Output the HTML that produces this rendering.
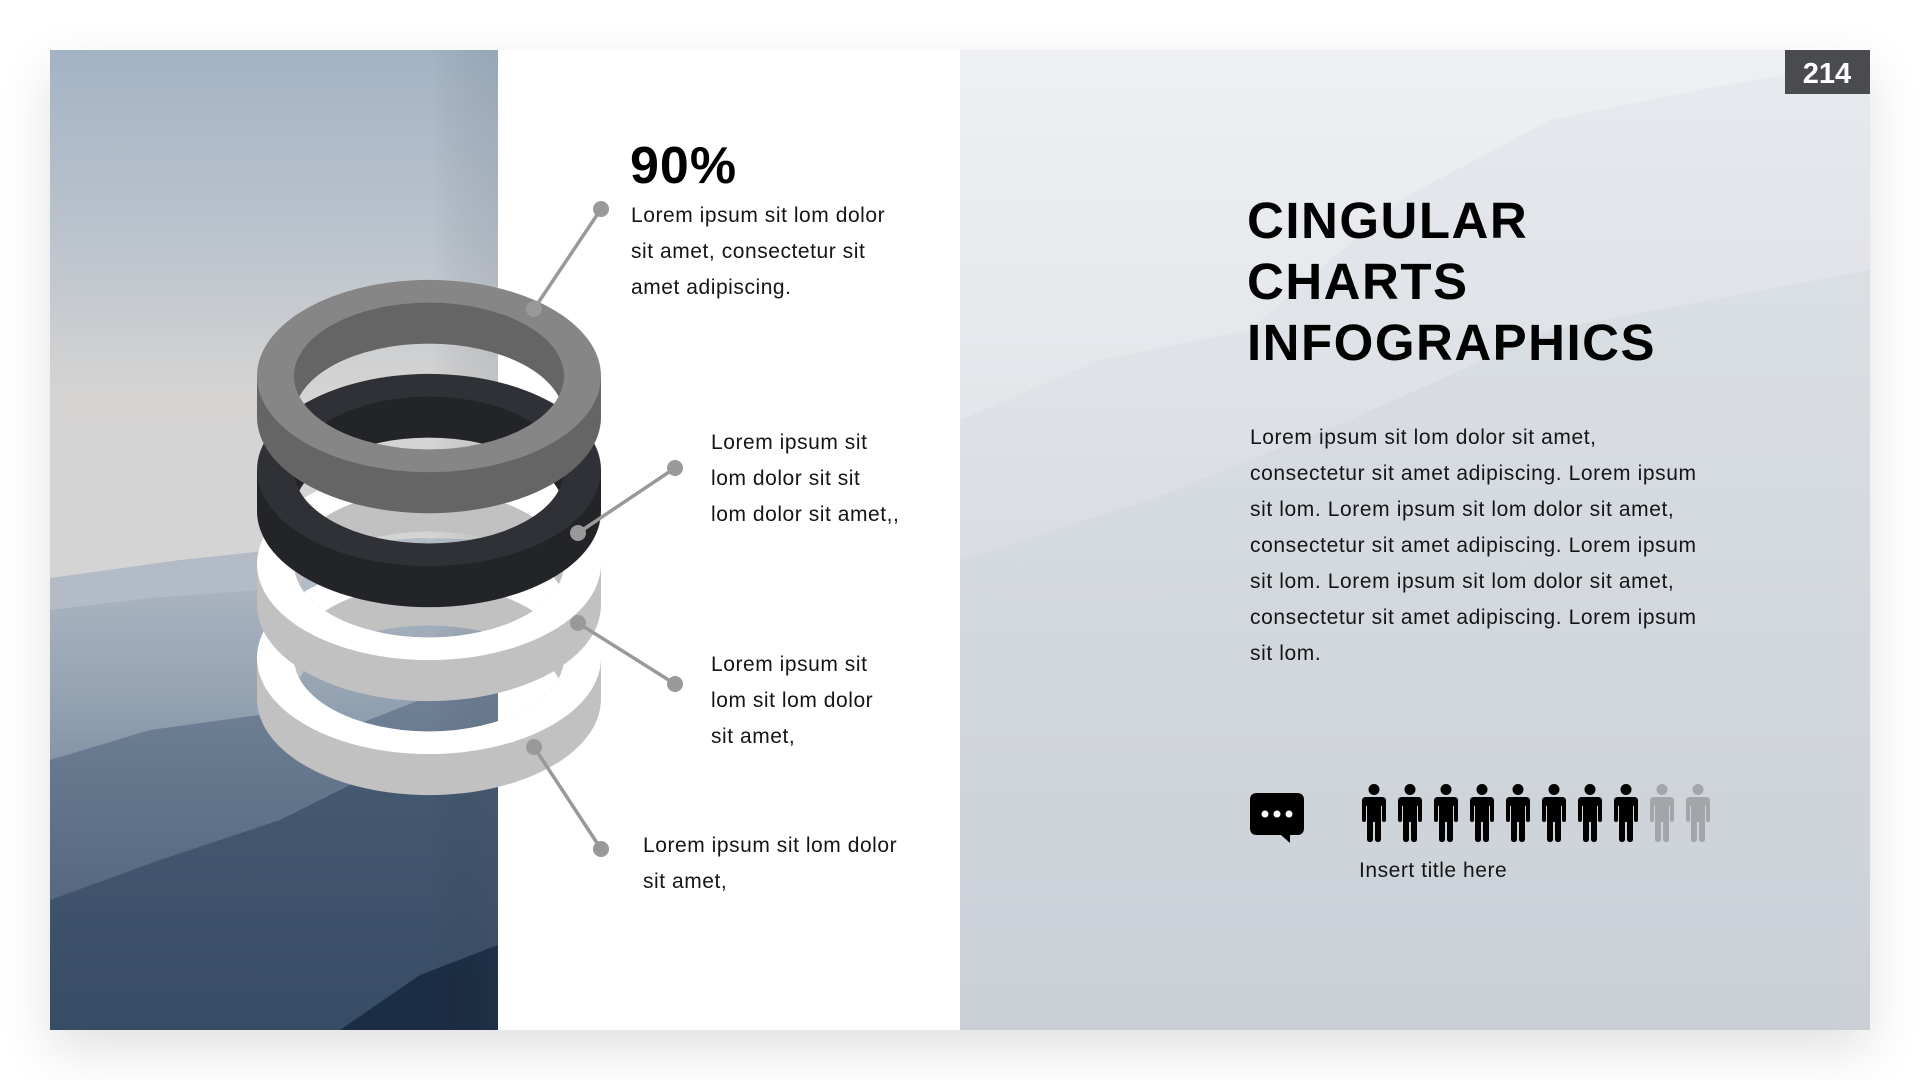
<!DOCTYPE html>
<html><head><meta charset="utf-8"><style>
*{margin:0;padding:0;box-sizing:border-box}
body{width:1920px;height:1080px;background:#fff;position:relative;overflow:hidden;font-family:"Liberation Sans",sans-serif;color:#111}
.card{position:absolute;left:50px;top:50px;width:1820px;height:980px;box-shadow:0 20px 50px rgba(0,0,0,0.12)}
.t{position:absolute;font-size:21px;line-height:36px;color:#151515;white-space:nowrap;letter-spacing:0.55px}
</style></head><body>
<div class="card"></div>
<svg style="position:absolute;left:0;top:0" width="1920" height="1080" viewBox="0 0 1920 1080">
<defs>
<linearGradient id="sky" x1="0" y1="0" x2="0" y2="1">
<stop offset="0" stop-color="#a3b3c4"/><stop offset="0.2" stop-color="#bcc4cd"/><stop offset="0.35" stop-color="#d5d4d3"/><stop offset="0.55" stop-color="#d4d4d5"/><stop offset="1" stop-color="#c0c6ce"/>
</linearGradient>
<linearGradient id="mtn" x1="0" y1="0" x2="0" y2="1">
<stop offset="0" stop-color="#aab4c0"/><stop offset="0.3" stop-color="#8a9aab"/><stop offset="0.7" stop-color="#56687f"/><stop offset="1" stop-color="#2a3f58"/>
</linearGradient>
<linearGradient id="rp" x1="0" y1="0" x2="0" y2="1">
<stop offset="0" stop-color="#eef0f3"/><stop offset="1" stop-color="#d0d4da"/>
</linearGradient>
<linearGradient id="edge" x1="0" y1="0" x2="1" y2="0">
<stop offset="0.85" stop-color="#000" stop-opacity="0"/><stop offset="1" stop-color="#405060" stop-opacity="0.12"/>
</linearGradient>
</defs>
<rect x="50" y="50" width="448" height="980" fill="url(#sky)"/>
<path d="M50 578 L180 560 L320 545 L420 538 L498 540 L498 1030 L50 1030Z" fill="#b3bcc6"/>
<path d="M50 610 L150 598 L260 590 L360 596 L498 580 L498 1030 L50 1030Z" fill="url(#mtn)" opacity="0.85"/>
<path d="M50 760 L150 730 L260 715 L330 735 L420 700 L498 690 L498 1030 L50 1030Z" fill="#4a5e77" opacity="0.5"/>
<path d="M50 900 L160 860 L280 820 L400 760 L498 735 L498 1030 L50 1030Z" fill="#2f445e" opacity="0.6"/>
<path d="M340 1030 L420 975 L498 945 L498 1030Z" fill="#14263c" opacity="0.8"/>
<rect x="50" y="50" width="448" height="980" fill="url(#edge)"/>
<rect x="498" y="50" width="462" height="980" fill="#fff"/>
<rect x="960" y="50" width="910" height="980" fill="url(#rp)"/>
<path d="M960 420 L1100 360 L1250 330 L1400 200 L1550 120 L1700 90 L1870 60 L1870 1030 L960 1030Z" fill="#c8ced6" opacity="0.18"/>
<path d="M960 560 L1150 500 L1350 420 L1550 330 L1870 270 L1870 1030 L960 1030Z" fill="#b8c0ca" opacity="0.15"/>
<rect x="1785" y="50" width="85" height="44" fill="#4a4b4e"/>
<text x="1827" y="83" text-anchor="middle" font-family="Liberation Sans" font-weight="bold" font-size="29" fill="#fff">214</text>

<g transform="translate(0,281) scale(1,1.08) translate(0,-281)">
<defs>
<clipPath id="c4"><ellipse cx="429" cy="630" rx="135" ry="68"/></clipPath>
<clipPath id="c3"><ellipse cx="429" cy="543" rx="135" ry="68"/></clipPath>
<clipPath id="c2"><ellipse cx="429" cy="456" rx="135" ry="68"/></clipPath>
<clipPath id="c1"><ellipse cx="429" cy="369" rx="135" ry="68"/></clipPath>
<mask id="m4" maskUnits="userSpaceOnUse" x="0" y="0" width="1920" height="1200"><rect width="1920" height="1200" fill="#fff"/><ellipse cx="429" cy="668" rx="135" ry="68" fill="#000" clip-path="url(#c4)"/></mask>
<mask id="m3" maskUnits="userSpaceOnUse" x="0" y="0" width="1920" height="1200"><rect width="1920" height="1200" fill="#fff"/><ellipse cx="429" cy="581" rx="135" ry="68" fill="#000" clip-path="url(#c3)"/></mask>
<mask id="m2" maskUnits="userSpaceOnUse" x="0" y="0" width="1920" height="1200"><rect width="1920" height="1200" fill="#fff"/><ellipse cx="429" cy="494" rx="135" ry="68" fill="#000" clip-path="url(#c2)"/></mask>
<mask id="m1" maskUnits="userSpaceOnUse" x="0" y="0" width="1920" height="1200"><rect width="1920" height="1200" fill="#fff"/><ellipse cx="429" cy="407" rx="135" ry="68" fill="#000" clip-path="url(#c1)"/></mask>
</defs>
<g mask="url(#m4)">
<ellipse cx="429" cy="668" rx="172" ry="89" fill="#c1c1c1"/><rect x="257" y="630" width="344" height="38" fill="#c1c1c1"/>
<ellipse cx="429" cy="630" rx="172" ry="89" fill="#fff"/><ellipse cx="429" cy="630" rx="135" ry="68" fill="#c1c1c1"/>
</g>
<g mask="url(#m3)">
<ellipse cx="429" cy="581" rx="172" ry="89" fill="#c1c1c1"/><rect x="257" y="543" width="344" height="38" fill="#c1c1c1"/>
<ellipse cx="429" cy="543" rx="172" ry="89" fill="#fff"/><ellipse cx="429" cy="543" rx="135" ry="68" fill="#c1c1c1"/>
</g>
<g mask="url(#m2)">
<ellipse cx="429" cy="494" rx="172" ry="89" fill="#232428"/><rect x="257" y="456" width="344" height="38" fill="#232428"/>
<ellipse cx="429" cy="456" rx="172" ry="89" fill="#2f3136"/><ellipse cx="429" cy="456" rx="135" ry="68" fill="#232428"/>
</g>
<g mask="url(#m1)">
<ellipse cx="429" cy="407" rx="172" ry="89" fill="#656565"/><rect x="257" y="369" width="344" height="38" fill="#656565"/>
<ellipse cx="429" cy="369" rx="172" ry="89" fill="#868686"/><ellipse cx="429" cy="369" rx="135" ry="68" fill="#656565"/>
</g>
</g>
<g stroke="#999" stroke-width="3.5" fill="#999">
<line x1="534" y1="309" x2="601" y2="209"/><circle cx="534" cy="309" r="8" stroke="none"/><circle cx="601" cy="209" r="8" stroke="none"/>
<line x1="578" y1="533" x2="675" y2="468"/><circle cx="578" cy="533" r="8" stroke="none"/><circle cx="675" cy="468" r="8" stroke="none"/>
<line x1="578" y1="623" x2="675" y2="684"/><circle cx="578" cy="623" r="8" stroke="none"/><circle cx="675" cy="684" r="8" stroke="none"/>
<line x1="534" y1="747" x2="601" y2="849"/><circle cx="534" cy="747" r="8" stroke="none"/><circle cx="601" cy="849" r="8" stroke="none"/>
</g>
<path d="M1257 793 H1297 Q1304 793 1304 800 V828 Q1304 835 1297 835 H1290 L1290 843 L1281 835 H1257 Q1250 835 1250 828 V800 Q1250 793 1257 793Z" fill="#000"/>
<circle cx="1265" cy="814" r="3.5" fill="#fff"/><circle cx="1277" cy="814" r="3.5" fill="#fff"/><circle cx="1289" cy="814" r="3.5" fill="#fff"/>
<defs><g id="p">
<circle cx="12" cy="5.5" r="5.5"/>
<path d="M4 13 H20 Q24 13 24 17 V36 Q24 38 22 38 Q20 38 20 36 V22 H19 V55 Q19 58 16 58 Q13 58 13 55 V38 H11 V55 Q11 58 8 58 Q5 58 5 55 V22 H4 V36 Q4 38 2 38 Q0 38 0 36 V17 Q0 13 4 13Z"/>
</g></defs>
<g fill="#000">
<use href="#p" x="1362" y="784"/><use href="#p" x="1398" y="784"/><use href="#p" x="1434" y="784"/><use href="#p" x="1470" y="784"/>
<use href="#p" x="1506" y="784"/><use href="#p" x="1542" y="784"/><use href="#p" x="1578" y="784"/><use href="#p" x="1614" y="784"/>
</g>
<g fill="#a3a5a9"><use href="#p" x="1650" y="784"/><use href="#p" x="1686" y="784"/></g>
</svg>

<div class="t" style="left:630px;top:138px;font-size:52px;line-height:56px;font-weight:bold;color:#000;letter-spacing:1px">90%</div>
<div class="t" style="left:631px;top:198px">Lorem ipsum sit lom dolor<br>sit amet, consectetur sit<br>amet adipiscing.</div>
<div class="t" style="left:711px;top:425px">Lorem ipsum sit<br>lom dolor sit sit<br>lom dolor sit amet,,</div>
<div class="t" style="left:711px;top:647px">Lorem ipsum sit<br>lom sit lom dolor<br>sit amet,</div>
<div class="t" style="left:643px;top:828px">Lorem ipsum sit lom dolor<br>sit amet,</div>

<div class="t" style="left:1247px;top:190px;font-size:51px;line-height:61px;font-weight:bold;color:#000;letter-spacing:1.5px">CINGULAR<br>CHARTS<br>INFOGRAPHICS</div>
<div class="t" style="left:1250px;top:420px;letter-spacing:0.6px">Lorem ipsum sit lom dolor sit amet,<br>consectetur sit amet adipiscing. Lorem ipsum<br>sit lom. Lorem ipsum sit lom dolor sit amet,<br>consectetur sit amet adipiscing. Lorem ipsum<br>sit lom. Lorem ipsum sit lom dolor sit amet,<br>consectetur sit amet adipiscing. Lorem ipsum<br>sit lom.</div>
<div class="t" style="left:1359px;top:853px">Insert title here</div>
</body></html>
